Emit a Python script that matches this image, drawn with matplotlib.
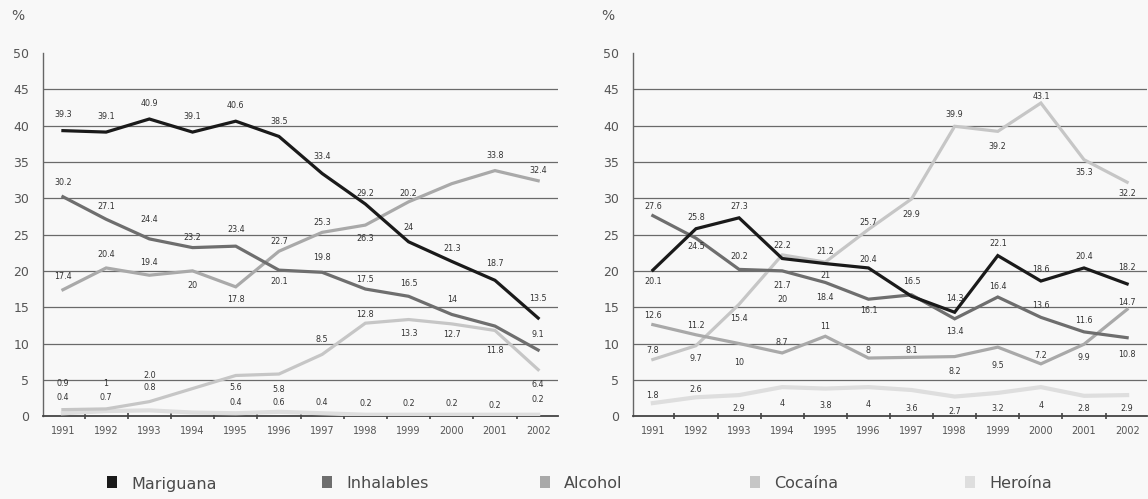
# -*- coding: utf-8 -*-
import numpy as np
import matplotlib
matplotlib.use('Agg')
import matplotlib.pyplot as plt
from matplotlib.patches import Rectangle

# --- data ---
years = [1991, 1992, 1993, 1994, 1995, 1996, 1997, 1998, 1999, 2000, 2001, 2002]
names = ['Mariguana', 'Inhalables', 'Alcohol', 'Cocaína', 'Heroína']

# panel izquierdo
mar_l = [39.3, 39.1, 40.9, 39.1, 40.6, 38.5, 33.4, 29.2, 24.0, 21.3, 18.7, 13.5]
inh_l = [30.2, 27.1, 24.4, 23.2, 23.4, 20.1, 19.8, 17.5, 16.5, 14.0, 12.4, 9.1]
alc_l = [17.4, 20.4, 19.4, 20.0, 17.8, 22.7, 25.3, 26.3, 29.5, 32.0, 33.8, 32.4]
coc_l = [0.9, 1.0, 2.0, 3.8, 5.6, 5.8, 8.5, 12.8, 13.3, 12.7, 11.8, 6.4]
her_l = [0.4, 0.7, 0.8, 0.5, 0.4, 0.6, 0.4, 0.2, 0.2, 0.2, 0.2, 0.2]

mar_l_lab = ['39.3', '39.1', '40.9', '39.1', '40.6', '38.5', '33.4', '29.2', '24', '21.3', '18.7', '13.5']
inh_l_lab = ['30.2', '27.1', '24.4', '23.2', '23.4', '20.1', '19.8', '17.5', '16.5', '14', '', '9.1']
alc_l_lab = ['17.4', '20.4', '19.4', '20', '17.8', '22.7', '25.3', '26.3', '20.2', '', '33.8', '32.4']
coc_l_lab = ['0.9', '1', '2.0', '', '5.6', '5.8', '8.5', '12.8', '13.3', '12.7', '11.8', '6.4']
her_l_lab = ['0.4', '0.7', '0.8', '', '0.4', '0.6', '0.4', '0.2', '0.2', '0.2', '0.2', '0.2']

# panel derecho
mar_r = [20.1, 25.8, 27.3, 21.7, 21.0, 20.4, 16.5, 14.3, 22.1, 18.6, 20.4, 18.2]
inh_r = [27.6, 24.5, 20.2, 20.0, 18.4, 16.1, 16.7, 13.4, 16.4, 13.6, 11.6, 10.8]
alc_r = [12.6, 11.2, 10.0, 8.7, 11.0, 8.0, 8.1, 8.2, 9.5, 7.2, 9.9, 14.7]
coc_r = [7.8, 9.7, 15.4, 22.2, 21.2, 25.7, 29.9, 39.9, 39.2, 43.1, 35.3, 32.2]
her_r = [1.8, 2.6, 2.9, 4.0, 3.8, 4.0, 3.6, 2.7, 3.2, 4.0, 2.8, 2.9]

mar_r_lab = ['20.1', '25.8', '27.3', '21.7', '21', '20.4', '16.5', '14.3', '22.1', '18.6', '20.4', '18.2']
inh_r_lab = ['27.6', '24.5', '20.2', '20', '18.4', '16.1', '', '13.4', '16.4', '13.6', '11.6', '10.8']
alc_r_lab = ['12.6', '11.2', '10', '8.7', '11', '8', '8.1', '8.2', '9.5', '7.2', '9.9', '14.7']
coc_r_lab = ['7.8', '9.7', '15.4', '22.2', '21.2', '25.7', '29.9', '39.9', '39.2', '43.1', '35.3', '32.2']
her_r_lab = ['1.8', '2.6', '2.9', '4', '3.8', '4', '3.6', '2.7', '3.2', '4', '2.8', '2.9']

# --- posicion vertical de etiquetas (desplazamiento en unidades de %) ---
mar_l_dy = [2.2, 2.2, 2.1, 2.2, 2.2, 2.0, 2.4, 1.5, 1.9, 1.8, 2.3, 2.7]
inh_l_dy = [1.9, 1.8, 2.6, 1.4, 2.3, -1.5, 2.1, 1.3, 1.8, 2.0, 0, 2.1]
alc_l_dy = [1.8, 1.8, 1.7, -2.0, -1.7, 1.3, 1.3, -1.8, 1.2, 0, 2.1, 1.4]
coc_l_dy = [3.6, 3.5, 3.6, 0, -1.7, -2.1, 2.0, 1.2, -1.9, -1.5, -2.7, -2.1]
her_l_dy = [2.2, 1.9, 3.2, 0, 1.5, 1.3, 1.5, 1.6, 1.6, 1.6, 1.3, 2.1]

mar_r_dy = [-1.5, 1.6, 1.5, -3.7, -1.6, 1.2, 2.0, 1.9, 1.6, 1.6, 1.6, 2.2]
inh_r_dy = [1.3, -1.2, 1.8, -3.9, -2.0, -1.5, 0, -1.7, 1.4, 1.7, 1.6, -2.3]
alc_r_dy = [1.3, 1.3, -2.6, 1.5, 1.3, 1.0, 0.9, -2.0, -2.5, 1.2, -1.8, 1.0]
coc_r_dy = [1.2, -1.7, -2.0, 1.3, 1.5, 0.9, -2.2, 1.6, -2.1, 0.9, -1.7, -1.6]
her_r_dy = [1.1, 1.1, -1.9, -2.3, -2.4, -2.4, -2.5, -2.1, -2.1, -2.5, -1.8, -1.9]

colors = ['#1a1a1a', '#6e6e6e', '#a9a9a9', '#c6c6c6', '#dedede']
widths = [2.3, 2.3, 2.3, 2.3, 3.0]
bg = '#f8f8f8'

fig = plt.figure(figsize=(11.48, 4.99), dpi=100, facecolor=bg)


def draw_panel(ax, series, labels, offsets):
    x = np.arange(len(years))
    # heroina al fondo, mariguana arriba
    for i in range(len(series) - 1, -1, -1):
        ax.plot(x, series[i], color=colors[i], lw=widths[i], zorder=3 + (5 - i),
                solid_joinstyle='miter')
        for xi, v, lab, dy in zip(x, series[i], labels[i], offsets[i]):
            if lab:
                ax.text(xi, v + dy, lab, fontsize=5.8, color='#333333',
                        ha='center', va='center', zorder=10)

    ax.set_facecolor(bg)
    ax.set_xlim(-0.46, 11.46)
    ax.set_ylim(0, 50)
    ax.set_yticks(range(0, 51, 5))
    ax.tick_params(axis='y', length=0, pad=10, labelsize=9, labelcolor='#555555')
    ax.set_xticks(x)
    ax.set_xticklabels([str(y) for y in years])
    ax.set_xticks(x[:-1] + 0.5, minor=True)
    ax.tick_params(axis='x', which='major', length=0, pad=7, labelsize=7, labelcolor='#555555')
    ax.tick_params(axis='x', which='minor', length=5, width=1.2, direction='inout', color='#444444')
    for s in ['top', 'right']:
        ax.spines[s].set_visible(False)
    ax.spines['left'].set_color('#666666')
    ax.spines['left'].set_linewidth(1.0)
    ax.spines['bottom'].set_color('#444444')
    ax.spines['bottom'].set_linewidth(1.3)
    for yv in range(5, 50, 5):
        ax.axhline(yv, color='#6a6a6a', lw=0.9, zorder=1)


ax1 = fig.add_axes([0.0375, 0.166, 0.4486, 0.728])
draw_panel(ax1,
           [mar_l, inh_l, alc_l, coc_l, her_l],
           [mar_l_lab, inh_l_lab, alc_l_lab, coc_l_lab, her_l_lab],
           [mar_l_dy, inh_l_dy, alc_l_dy, coc_l_dy, her_l_dy])

ax2 = fig.add_axes([0.5514, 0.166, 0.4477, 0.728])
draw_panel(ax2,
           [mar_r, inh_r, alc_r, coc_r, her_r],
           [mar_r_lab, inh_r_lab, alc_r_lab, coc_r_lab, her_r_lab],
           [mar_r_dy, inh_r_dy, alc_r_dy, coc_r_dy, her_r_dy])

fig.text(0.0157, 0.968, '%', fontsize=10, color='#555555', ha='center', va='center')
fig.text(0.5296, 0.968, '%', fontsize=10, color='#555555', ha='center', va='center')

# leyenda (centro del cuadrito en px)
leg_x = [112, 327, 545, 755, 970]
for name, c, px in zip(names, colors, leg_x):
    fig.patches.append(Rectangle(((px - 5) / 1148.0, 1 - 488 / 499.0), 10 / 1148.0, 12 / 499.0,
                                 transform=fig.transFigure, facecolor=c, edgecolor='none'))
    fig.text((px + 19) / 1148.0, 1 - 484 / 499.0, name, fontsize=11.5, color='#4a4a4a',
             ha='left', va='center')

fig.savefig('out.png', dpi=100, facecolor=bg)
